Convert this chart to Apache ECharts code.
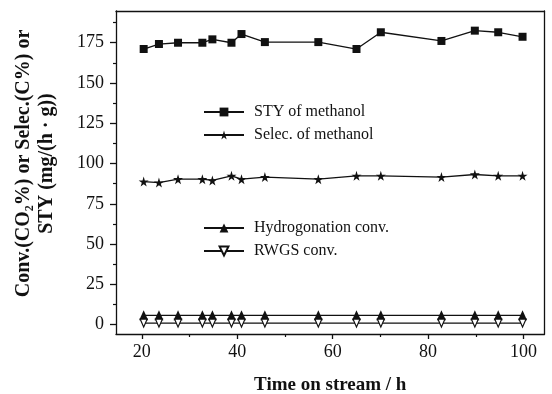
<!DOCTYPE html>
<html>
<head>
<meta charset="utf-8">
<script src="https://cdn.jsdelivr.net/npm/echarts@6/dist/echarts.min.js"></script>
<style>html,body{margin:0;padding:0;background:#fff}#c{width:552px;height:394px}</style>
</head>
<body>
<div id="c"></div>
<script>
// ---- data ----
var timeH = [20.4, 23.6, 27.6, 32.7, 34.8, 38.8, 40.9, 45.8, 57.0, 65.0, 70.1, 82.8, 89.8, 94.7, 99.8];
var styMethanol = [171.1, 174.2, 175.0, 175.0, 177.1, 175.0, 180.4, 175.4, 175.4, 171.1, 181.5, 176.1, 182.5, 181.5, 178.7];
var selecMethanol = [88.8, 88.2, 90.3, 90.3, 89.5, 92.4, 90.3, 91.6, 90.3, 92.4, 92.4, 91.6, 93.2, 92.4, 92.4];
var hydroConv = [5.8, 5.8, 5.8, 5.8, 5.8, 5.8, 5.8, 5.8, 5.8, 5.8, 5.8, 5.8, 5.8, 5.8, 5.8];
var rwgsConv = [1.0, 1.0, 1.0, 1.0, 1.0, 1.0, 1.0, 1.0, 1.0, 1.0, 1.0, 1.0, 1.0, 1.0, 1.0];
var xMajorTicks = [20, 40, 60, 80, 100];
var xMinorTicks = [30, 50, 70, 90];
var yMajorTicks = [0, 25, 50, 75, 100, 125, 150, 175];
var yMinorTicks = [12.5, 37.5, 62.5, 87.5, 112.5, 137.5, 162.5, 187.5];
var seriesNames = ['STY of methanol', 'Selec. of methanol', 'Hydrogonation conv.', 'RWGS conv.'];

function pairs(ys) { return timeH.map(function (t, i) { return [t, ys[i]]; }); }

var INK = '#111';
var FONT = '"Liberation Serif", "DejaVu Serif", serif';
var STAR = 'path://M50,0 L61,35 L98,35 L68,57 L79,91 L50,70 L21,91 L32,57 L2,35 L39,35 Z';
var DOWN_TRI = 'path://M0,0 L10,0 L5,9 Z';

var chart = echarts.init(document.getElementById('c'), null, { renderer: 'canvas' });

function lineSeries(name, ys, symbol, size, fill) {
  return {
    name: name, type: 'line', data: pairs(ys), clip: false,
    symbol: symbol, symbolSize: size, showSymbol: true,
    lineStyle: { color: INK, width: 1.3 },
    itemStyle: { color: fill || INK, borderColor: INK, borderWidth: fill ? 1.2 : 0 },
    emphasis: { disabled: true }, animation: false
  };
}

var xFrame = { min: 14.6, max: 104.4, type: 'value', gridIndex: 0 };
var yFrame = { min: -5.8, max: 194.7, type: 'value', gridIndex: 0 };

chart.setOption({
  backgroundColor: '#fff',
  animation: false,
  grid: { left: 116, right: 7.5, top: 11, bottom: 60, containLabel: false, outerBoundsMode: 'none' },
  xAxis: [
    Object.assign({}, xFrame, {
      position: 'bottom',
      axisLine: { show: true, onZero: false, lineStyle: { color: INK, width: 1.3 } },
      splitLine: { show: false },
      axisTick: { show: true, inside: false, length: 5, customValues: xMajorTicks, lineStyle: { color: INK, width: 1.3 } },
      axisLabel: { show: true, customValues: xMajorTicks, margin: 9, color: INK, fontFamily: FONT, fontSize: 18 },
      name: 'Time on stream / h', nameLocation: 'middle', nameGap: 42,
      nameTextStyle: { color: INK, fontFamily: FONT, fontSize: 19, fontWeight: 'bold' }
    }),
    Object.assign({}, xFrame, {
      position: 'bottom',
      axisLine: { show: false, onZero: false }, splitLine: { show: false }, axisLabel: { show: false },
      axisTick: { show: true, length: 3, customValues: xMinorTicks, lineStyle: { color: INK, width: 1.2 } }
    }),
    Object.assign({}, xFrame, {
      position: 'top',
      axisLine: { show: true, onZero: false, lineStyle: { color: INK, width: 1.3 } },
      splitLine: { show: false }, axisLabel: { show: false }, axisTick: { show: false }
    })
  ],
  yAxis: [
    Object.assign({}, yFrame, {
      position: 'left',
      axisLine: { show: true, onZero: false, lineStyle: { color: INK, width: 1.3 } },
      splitLine: { show: false },
      axisTick: { show: true, inside: false, length: 6, customValues: yMajorTicks, lineStyle: { color: INK, width: 1.3 } },
      axisLabel: { show: true, customValues: yMajorTicks, margin: 12, color: INK, fontFamily: FONT, fontSize: 18 },
      name: 'Conv.(CO\u2082%) or Selec.(C%) or\nSTY (mg/(h \u00b7 g))', nameLocation: 'middle', nameGap: 58,
      nameTextStyle: { color: INK, fontFamily: FONT, fontSize: 20, fontWeight: 'bold', lineHeight: 23, padding: [0, 0, 0, 18] }
    }),
    Object.assign({}, yFrame, {
      position: 'left',
      axisLine: { show: false, onZero: false }, splitLine: { show: false }, axisLabel: { show: false },
      axisTick: { show: true, length: 3, customValues: yMinorTicks, lineStyle: { color: INK, width: 1.2 } }
    }),
    Object.assign({}, yFrame, {
      position: 'right',
      axisLine: { show: true, onZero: false, lineStyle: { color: INK, width: 1.3 } },
      splitLine: { show: false }, axisLabel: { show: false }, axisTick: { show: false }
    })
  ],
  legend: [
    {
      data: [seriesNames[0], seriesNames[1]], orient: 'vertical', left: 203, top: 104, padding: 0,
      itemWidth: 40, itemHeight: 11, itemGap: 7, selectedMode: false,
      textStyle: { color: INK, fontFamily: FONT, fontSize: 16, padding: [0, 0, 0, 5] }
    },
    {
      data: [seriesNames[2], seriesNames[3]], orient: 'vertical', left: 203, top: 220, padding: 0,
      itemWidth: 40, itemHeight: 11, itemGap: 7, selectedMode: false,
      textStyle: { color: INK, fontFamily: FONT, fontSize: 16, padding: [0, 0, 0, 5] }
    }
  ],
  series: [
    lineSeries(seriesNames[0], styMethanol, 'rect', 8),
    lineSeries(seriesNames[1], selecMethanol, STAR, 10),
    lineSeries(seriesNames[2], hydroConv, 'triangle', [9, 10]),
    lineSeries(seriesNames[3], rwgsConv, DOWN_TRI, [7, 8], '#fff')
  ]
});
</script>
</body>
</html>
